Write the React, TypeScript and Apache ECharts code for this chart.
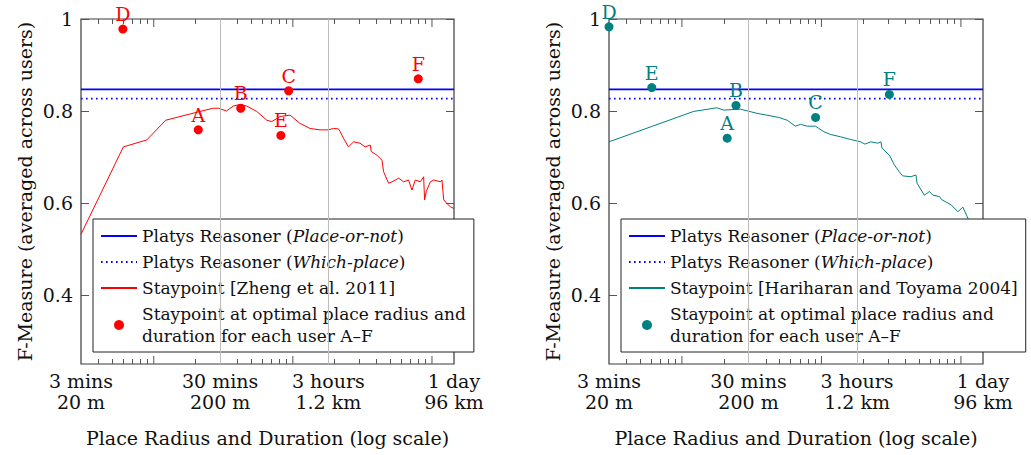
import React, { useEffect, useRef } from "react";
import * as echarts from "echarts";

const FONT = "DejaVu Serif";
const TEXT = "#111";

// x axis (minutes, log scale)
const xMin = 3;
const xMax = 1440;
const timeTicks = [3, 30, 180, 1440];
const timeTickLabels = ["3 mins", "30 mins", "3 hours", "1 day"];
const radiusTickLabels = ["20 m", "200 m", "1.2 km", "96 km"];
const minorTicks = [4, 5, 6, 7, 8, 9, 20, 40, 50, 60, 70, 80, 90, 200, 300, 400, 500, 600, 700, 800, 900];
const majorTicks = [10, 100, 1000];
const gridTicks = [30, 180];

// y axis
const yMin = 0.25;
const yMax = 1;
const yTicks = [0.4, 0.6, 0.8, 1];

// Platys reasoner baselines
const placeOrNot = 0.847;
const whichPlace = 0.827;

// Staypoint [Zheng et al. 2011]
const zhengX = [3, 6.05, 8.9, 12.2, 21.5, 26.8, 29.1, 33.4, 37.4, 41.7, 46.5, 55, 65, 70.5, 81, 95.5, 100, 112.6, 133, 157, 180, 196, 213, 219, 231, 251, 273, 304, 331, 360, 366, 402, 437, 449, 488, 516, 577, 625, 679, 718, 759, 824, 871, 885, 910, 973, 1030, 1149, 1180, 1214, 1280, 1355, 1440];
const zhengY = [0.532, 0.722, 0.737, 0.78, 0.799, 0.806, 0.806, 0.8, 0.811, 0.814, 0.811, 0.799, 0.78, 0.777, 0.788, 0.791, 0.786, 0.773, 0.762, 0.759, 0.759, 0.762, 0.761, 0.755, 0.741, 0.722, 0.733, 0.73, 0.722, 0.726, 0.712, 0.704, 0.693, 0.668, 0.643, 0.646, 0.654, 0.646, 0.65, 0.628, 0.65, 0.646, 0.657, 0.607, 0.625, 0.646, 0.65, 0.646, 0.65, 0.607, 0.599, 0.592, 0.588];

// Staypoint [Hariharan and Toyama 2004]
const hariX = [3, 12.1, 17.8, 19.9, 26.3, 34.5, 49.5, 56.8, 65, 70.8, 79, 90.8, 104, 116, 137, 162, 191, 205, 226, 253, 267, 272, 307, 333, 361, 382, 438, 476, 485, 547, 595, 629, 702, 730, 851, 951, 1033, 1122, 1300, 1440];
const hariY = [0.733, 0.799, 0.807, 0.802, 0.804, 0.795, 0.786, 0.78, 0.767, 0.771, 0.767, 0.767, 0.755, 0.749, 0.744, 0.738, 0.733, 0.728, 0.733, 0.73, 0.733, 0.719, 0.704, 0.683, 0.668, 0.659, 0.657, 0.661, 0.643, 0.617, 0.625, 0.617, 0.614, 0.607, 0.596, 0.581, 0.591, 0.567, 0.54, 0.52];

// optimal per-user points
const userIds = ["A", "B", "C", "D", "E", "F"];
const zhengUserX = [20.9, 42.2, 93.3, 6.0, 82, 797];
const zhengUserY = [0.759, 0.806, 0.844, 0.978, 0.747, 0.87];
const hariUserX = [21.1, 24.4, 90.8, 3.0, 6.08, 307];
const hariUserY = [0.741, 0.812, 0.786, 0.983, 0.851, 0.836];

const RED = "#ff0000";
const TEAL = "#008080";
const BLUE = "#0000ff";

const legendLabels: Record<string, string> = {
  pon: "Platys Reasoner ({it|Place-or-not})",
  wp: "Platys Reasoner ({it|Which-place})",
  zheng: "Staypoint [Zheng et al. 2011]",
  hari: "Staypoint [Hariharan and Toyama 2004]",
  optL: "Staypoint at optimal place radius and\nduration for each user A–F",
  optR: "Staypoint at optimal place radius and\nduration for each user A–F",
};

const zip = (xs: number[], ys: number[]) => xs.map((x, i) => [x, ys[i]]);

function xLabel(v: number) {
  const i = timeTicks.findIndex((t) => Math.abs(v - t) / t < 0.01);
  if (i < 0) return "";
  return timeTickLabels[i] + "\n" + radiusTickLabels[i];
}

function buildPanel(g: number, lineName: string, lineX: number[], lineY: number[], color: string, optName: string, ux: number[], uy: number[]) {
  const xa = g * 2;
  const ya = g * 2;
  return [
    {
      type: "custom",
      name: "ticks" + g,
      xAxisIndex: xa,
      yAxisIndex: ya,
      z: 1,
      silent: true,
      clip: false,
      encode: { x: 0, y: 1 },
      data: majorTicks.map((t) => [t, yMin]),
      renderItem: (params: any, api: any) => {
        const x = api.value(0);
        const top = api.coord([x, yMax]);
        const bot = api.coord([x, yMin]);
        const st = { stroke: "#555", lineWidth: 1 };
        return {
          type: "group",
          children: [
            { type: "line", shape: { x1: top[0], y1: top[1], x2: top[0], y2: top[1] + 8 }, style: st },
            { type: "line", shape: { x1: bot[0], y1: bot[1], x2: bot[0], y2: bot[1] - 8 }, style: st },
          ],
        };
      },
      markLine: {
        silent: true,
        symbol: ["none", "none"],
        label: { show: false },
        lineStyle: { color: "#bdbdbd", type: "solid", width: 1 },
        data: gridTicks.map((t) => ({ xAxis: t })),
      },
    },
    {
      type: "line",
      name: "pon",
      xAxisIndex: xa,
      yAxisIndex: ya,
      symbol: "none",
      color: BLUE,
      lineStyle: { color: BLUE, width: 1.6 },
      data: [[xMin, placeOrNot], [xMax, placeOrNot]],
    },
    {
      type: "line",
      name: "wp",
      xAxisIndex: xa,
      yAxisIndex: ya,
      symbol: "none",
      color: BLUE,
      lineStyle: { color: BLUE, width: 1.6, type: [1.6, 3.4] },
      data: [[xMin, whichPlace], [xMax, whichPlace]],
    },
    {
      type: "line",
      name: lineName,
      xAxisIndex: xa,
      yAxisIndex: ya,
      symbol: "none",
      color: color,
      lineStyle: { color: color, width: 1 },
      data: zip(lineX, lineY),
    },
    {
      type: "scatter",
      name: optName,
      xAxisIndex: xa,
      yAxisIndex: ya,
      symbol: "circle",
      symbolSize: 9,
      color: color,
      itemStyle: { color: color, opacity: 1 },
      z: 3,
      clip: false,
      label: {
        show: true,
        position: "top",
        distance: 1,
        formatter: (p: any) => p.name,
        color: color,
        fontFamily: FONT,
        fontSize: 19,
      },
      data: userIds.map((id, i) => ({ name: id, value: [ux[i], uy[i]] })),
    },
  ];
}

function xAxes(g: number) {
  const base = {
    type: "log",
    logBase: 10,
    gridIndex: g,
    min: xMin,
    max: xMax,
    axisLine: { show: false },
    splitLine: { show: false },
    minorTick: { show: false },
    axisTick: { show: true, inside: true, length: 5, customValues: minorTicks, lineStyle: { color: "#555", width: 1 } },
  };
  return [
    {
      ...base,
      position: "bottom",
      name: "Place Radius and Duration (log scale)",
      nameLocation: "middle",
      nameGap: 64,
      nameTextStyle: { fontFamily: FONT, fontSize: 19, color: TEXT },
      axisLabel: {
        show: true,
        customValues: timeTicks,
        showMinLabel: true,
        showMaxLabel: true,
        margin: 6,
        formatter: xLabel,
        fontFamily: FONT,
        fontSize: 19,
        lineHeight: 21,
        color: TEXT,
        align: "center",
      },
    },
    { ...base, position: "top", axisLabel: { show: false } },
  ];
}

function yAxes(g: number) {
  const base = {
    type: "value",
    gridIndex: g,
    min: yMin,
    max: yMax,
    axisLine: { show: false },
    splitLine: { show: false },
    axisTick: { show: true, inside: true, length: 8, customValues: yTicks, lineStyle: { color: "#555", width: 1 } },
  };
  return [
    {
      ...base,
      position: "left",
      name: "F-Measure (averaged across users)",
      nameLocation: "middle",
      nameGap: 47,
      nameRotate: 90,
      nameTextStyle: { fontFamily: FONT, fontSize: 19, color: TEXT },
      axisLabel: {
        show: true,
        customValues: yTicks,
        margin: 8,
        fontFamily: FONT,
        fontSize: 19,
        color: TEXT,
        formatter: (v: number) => String(Math.round(v * 10) / 10),
      },
    },
    { ...base, position: "right", axisLabel: { show: false } },
  ];
}

function legend(left: number, names: string[], dotName: string) {
  return {
    show: true,
    orient: "vertical",
    left,
    top: 219,
    padding: [6, 8, 5, 7],
    itemGap: 4,
    itemWidth: 36,
    itemHeight: 10,
    backgroundColor: "#ffffff",
    borderColor: "#222",
    borderWidth: 1,
    borderRadius: 0,
    selectedMode: false,
    data: names.map((n) => (n === dotName ? { name: n, itemStyle: { opacity: 1 } } : { name: n, itemStyle: { opacity: 0 } })),
    formatter: (name: string) => legendLabels[name] || name,
    textStyle: {
      fontFamily: FONT,
      fontSize: 17,
      lineHeight: 22,
      color: TEXT,
      rich: {
        it: { fontFamily: FONT, fontSize: 17, lineHeight: 22, fontStyle: "italic", color: TEXT },
      },
    },
  };
}

export default function App() {
  const ref = useRef<HTMLDivElement>(null);
  useEffect(() => {
    if (!ref.current) return;
    const chart = echarts.init(ref.current, null, { renderer: "svg" });
    const gridStyle = { show: true, borderColor: "#3a3a3a", borderWidth: 1.2, backgroundColor: "transparent", containLabel: false };
    chart.setOption({
      animation: false,
      backgroundColor: "#ffffff",
      textStyle: { fontFamily: FONT },
      grid: [
        { ...gridStyle, left: 81, top: 19, width: 373, height: 345 },
        { ...gridStyle, left: 609, top: 19, width: 374, height: 345 },
      ],
      xAxis: [...xAxes(0), ...xAxes(1)],
      yAxis: [...yAxes(0), ...yAxes(1)],
      legend: [
        legend(93, ["pon", "wp", "zheng", "optL"], "optL"),
        legend(621, ["pon", "wp", "hari", "optR"], "optR"),
      ],
      series: [
        ...buildPanel(0, "zheng", zhengX, zhengY, RED, "optL", zhengUserX, zhengUserY),
        ...buildPanel(1, "hari", hariX, hariY, TEAL, "optR", hariUserX, hariUserY),
      ],
    });
    return () => chart.dispose();
  }, []);
  return (
    <div
      ref={ref}
      style={{ position: "absolute", left: 0, top: 0, width: 1031, height: 455, background: "#fff" }}
    />
  );
}
